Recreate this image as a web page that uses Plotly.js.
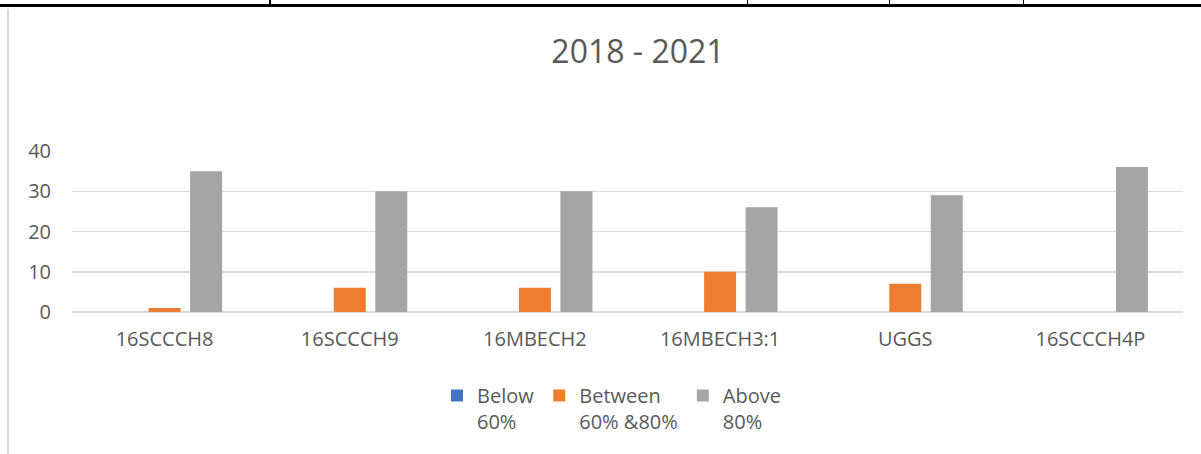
<!DOCTYPE html>
<html>
<head>
<meta charset="utf-8">
<script src="https://cdn.plot.ly/plotly-3.0.1.min.js"></script>
<style>
  html, body { margin: 0; padding: 0; background: #fff; }
  #wrap { position: relative; width: 1201px; height: 454px; overflow: hidden; }
  #chart { position: absolute; left: 0; top: 0; width: 1201px; height: 454px; }
  .ln { position: absolute; background: #000; }
  .gl { position: absolute; background: #d9d9d9; }
</style>
</head>
<body>
<div id="wrap">
  <div id="chart"></div>
  <div class="ln" style="left:0;top:4px;width:1201px;height:3px;"></div>
  <div class="ln" style="left:269px;top:0;width:2px;height:6px;"></div>
  <div class="ln" style="left:747px;top:0;width:1px;height:6px;"></div>
  <div class="ln" style="left:889px;top:0;width:1px;height:6px;"></div>
  <div class="ln" style="left:1023px;top:0;width:1px;height:6px;"></div>
  <div class="gl" style="left:7px;top:9px;width:2px;height:445px;"></div>
</div>
<script>
const categories = ["16SCCCH8", "16SCCCH9", "16MBECH2", "16MBECH3:1", "UGGS", "16SCCCH4P"];
const seriesNames = ["Below<br>60%", "Between<br>60% &80%", "Above<br>80%"];
const below60 = [0, 0, 0, 0, 0, 0];
const between60and80 = [1, 6, 6, 10, 7, 0];
const above80 = [35, 30, 30, 26, 29, 36];
const yTicks = [0, 10, 20, 30, 40];
const colors = ["#4472C4", "#ED7D31", "#A5A5A5"];

const series = [below60, between60and80, above80];
const traces = series.map((vals, i) => ({
  type: "bar",
  x: categories,
  y: vals,
  name: seriesNames[i],
  marker: { color: colors[i], line: { width: 0 } },
  hoverinfo: "skip"
}));

const font = "'Open Sans', 'Noto Sans', sans-serif";
const layout = {
  width: 1201,
  height: 454,
  paper_bgcolor: "rgba(0,0,0,0)",
  plot_bgcolor: "rgba(0,0,0,0)",
  margin: { l: 72, r: 18, t: 151, b: 142, pad: 0 },
  font: { family: font, color: "#595959", size: 20 },
  title: {
    text: "2018 - 2021",
    font: { family: font, size: 32, color: "#595959" },
    x: 638 / 1201, xref: "container", xanchor: "center",
    y: 1 - 52 / 454, yref: "container", yanchor: "middle"
  },
  barmode: "group",
  bargap: 0.327,
  bargroupgap: 0.23,
  xaxis: {
    type: "category",
    showgrid: false,
    showline: false,
    zeroline: false,
    ticks: "",
    ticklabelstandoff: 13,
    tickfont: { family: font, size: 20, color: "#595959" }
  },
  yaxis: {
    range: [0, 40],
    tickvals: yTicks,
    ticktext: yTicks.map(String),
    showgrid: true,
    gridcolor: "#d9d9d9",
    gridwidth: 1.5,
    zeroline: true,
    zerolinecolor: "#d9d9d9",
    zerolinewidth: 1.5,
    showline: false,
    ticks: "",
    ticklabelstandoff: 20,
    tickfont: { family: font, size: 20, color: "#595959" }
  },
  showlegend: true,
  legend: {
    orientation: "h",
    x: 0.5 + 11 / 1201, xref: "container", xanchor: "center",
    y: 1 - 376 / 454, yref: "container", yanchor: "top",
    valign: "top",
    font: { family: font, size: 20, color: "#595959" },
    itemclick: false,
    itemdoubleclick: false,
    bgcolor: "rgba(0,0,0,0)"
  }
};

Plotly.newPlot("chart", traces, layout, { displayModeBar: false, staticPlot: true });
</script>
</body>
</html>
